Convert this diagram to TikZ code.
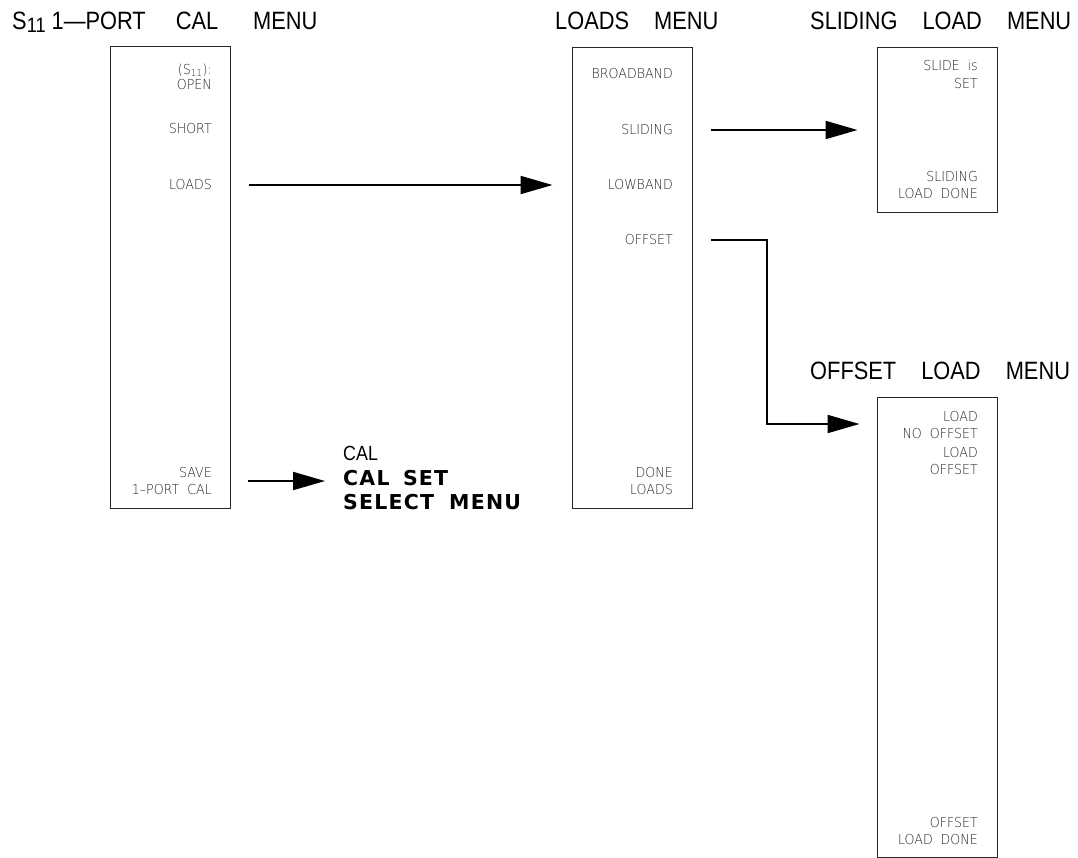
\documentclass[tikz,border=0pt]{standalone}
\usepackage{fontspec}
\setmainfont{Liberation Sans}
\newfontfamily\ttlfont[FakeStretch=0.87]{Liberation Sans}
\newfontfamily\keyfont[FakeStretch=0.92]{DejaVu Sans ExtraLight}
\newfontfamily\hpfont[LetterSpace=6]{DejaVu Sans}
\usetikzlibrary{positioning,arrows.meta,calc}

\begin{document}
\begin{tikzpicture}[x=0.03cm, y=-0.03cm,
  every node/.style={inner sep=0pt},
  menubox/.style={draw=black!85, line width=0.8pt, minimum width=3.6cm},
  key/.style={anchor=east, align=right, text=black!85, font=\keyfont\fontsize{11.7}{15.3}\selectfont},
  ttl/.style={anchor=base west, font=\ttlfont\fontsize{21.4}{24}\selectfont},
  arr/.style={-{Triangle[length=0.96cm,width=0.54cm]}, line width=1.7pt}]
  \useasboundingbox (0,0) rectangle (1078,858);
  % menus
  \node[menubox, minimum height=13.86cm] (cal) at (170,277) {};
  \node[menubox, minimum height=13.83cm] (loads) at (632,277.5) {};
  \node[menubox, minimum height=4.95cm] (slide) at (937,129.5) {};
  \node[menubox, minimum height=13.8cm] (offset) at (937,627) {};
  % titles
  \node[ttl] (calttl) at (12,29) {S\raisebox{-0.09cm}{\fontsize{17.8}{18}\selectfont 11} 1—PORT\hspace{0.9cm}CAL\hspace{1.05cm}MENU};
  \node[ttl] (loadsttl) at (555,29) {LOADS\quad MENU};
  \node[ttl] (slidettl) at (810,29) {SLIDING\quad LOAD\quad MENU};
  \node[ttl] (offttl) at (810,379) {OFFSET\quad LOAD\quad MENU};
  % softkeys
  \node[key] (open) at (212,77) {(S\textsubscript{11}):\\[-0.1cm]OPEN};
  \node[key] (short) at (212,129) {SHORT};
  \node[key] (ld) at (212,185) {LOADS};
  \node[key] (save) at (212,481) {SAVE\\1–PORT\ \ CAL};
  \node[key] (bb) at (673,74) {BROADBAND};
  \node[key] (sld) at (673,130) {SLIDING};
  \node[key] (low) at (673,185) {LOWBAND};
  \node[key] (off) at (673,240) {OFFSET};
  \node[key] (done) at (673,481) {DONE\\LOADS};
  \node[key] (slset) at (978,74) {SLIDE\ \ is\\SET};
  \node[key] (sldone) at (978,185) {SLIDING\\LOAD\ \ DONE};
  \node[key] (nooff) at (978,425) {LOAD\\NO\ \ OFFSET};
  \node[key] (lo) at (978,461) {LOAD\\OFFSET};
  \node[key] (offdone) at (978,831) {OFFSET\\LOAD\ \ DONE};
  \node[anchor=west, align=left, font=\hpfont\fontsize{17.5}{20.8}\selectfont] (calset) at (343,478)
    {{\ttlfont CAL}\\{\bfseries CAL\hspace{0.4cm}SET}\\{\bfseries SELECT\hspace{0.45cm}MENU}};
  \coordinate (bend) at (767,424);
  \draw[arr, shorten <=0.57cm, shorten >=0.57cm] (ld -| cal.east) -- (ld -| loads.west);
  \draw[arr, shorten <=0.57cm, shorten >=0.57cm] (sld -| loads.east) -- (sld -| slide.west);
  \draw[arr, shorten <=0.57cm, shorten >=0.51cm] (off -| loads.east) -| (bend) -- (bend -| offset.west);
  \draw[arr, shorten <=0.54cm, shorten >=0.54cm] (save -| cal.east) -- (save -| calset.west);
\end{tikzpicture}
\end{document}
